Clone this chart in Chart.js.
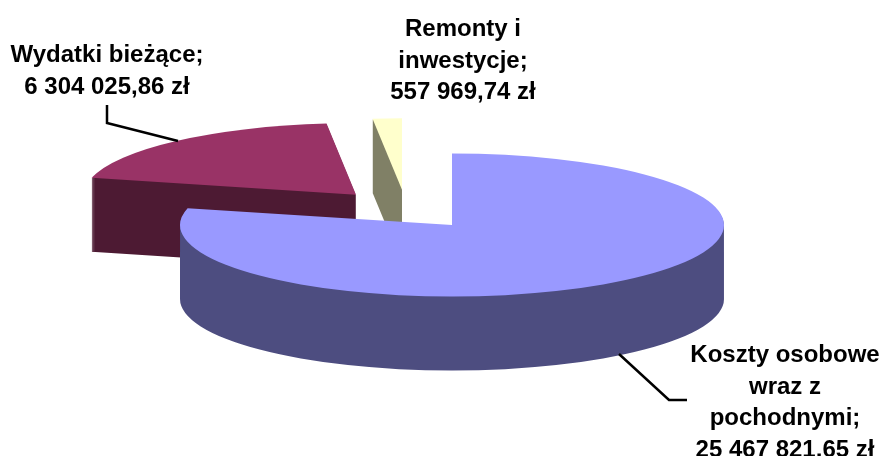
<!DOCTYPE html>
<html>
<head>
<meta charset="utf-8">
<style>
  html, body { margin: 0; background: #fff; }
  #wrap { width: 882px; height: 456px; }
</style>
<script src="https://cdn.jsdelivr.net/npm/chart.js@4"></script>
</head>
<body>
<div id="wrap"><canvas id="chart" width="882" height="456"></canvas></div>
<script>
const categories = ["Koszty osobowe wraz z pochodnymi", "Wydatki bieżące", "Remonty i inwestycje"];
const values = [25467821.65, 6304025.86, 557969.74];
const topColors = ["#9999FF", "#993366", "#FFFFCC"];
const wallColors = ["#4D4D80", "#4D1A33", "#808066"];

// label text wrapped the way the picture wraps it
const labelLines = [
  ["Koszty osobowe", "wraz z", "pochodnymi;"],
  ["Wydatki bieżące;"],
  ["Remonty i", "inwestycje;"]
];
const labelSpots = [
  { x: 785, y: 362 },
  { x: 107, y: 62 },
  { x: 463, y: 36 }
];
const leaders = [
  [[619, 354], [669, 400], [687, 400]],
  [[107, 105], [107, 123], [178, 141]],
  null
];

const squash = 0.263;
const depth = 74;
const explode = 75;

// adds one slice outline to the current path, lifted into the flattened view
function addSlice(ctx, arc, dy) {
  const mid = (arc.startAngle + arc.endAngle) / 2;
  const cx = Math.round(arc.x + Math.cos(mid) * explode);
  const cy = arc.y + dy + Math.sin(mid) * explode * squash;
  ctx.save();
  ctx.translate(cx, cy);
  ctx.scale(1, squash);
  ctx.moveTo(0, 0);
  ctx.arc(0, 0, arc.outerRadius, arc.startAngle, arc.endAngle);
  ctx.closePath();
  ctx.restore();
}

const pie3d = {
  id: "pie3d",
  beforeDatasetDraw(chart) {
    const ctx = chart.ctx;
    const arcs = chart.getDatasetMeta(0).data;
    // back slices first, the big one sits in front of them
    const order = [1, 2, 0];
    order.forEach(i => {
      ctx.beginPath();
      for (let d = depth; d > 0; d--) addSlice(ctx, arcs[i], d);
      ctx.fillStyle = wallColors[i];
      ctx.fill();
    });
    order.forEach(i => {
      ctx.beginPath();
      addSlice(ctx, arcs[i], 0);
      ctx.fillStyle = topColors[i];
      ctx.fill();
    });
    return false;
  },
  afterDatasetsDraw(chart) {
    const ctx = chart.ctx;
    ctx.save();
    ctx.strokeStyle = "#000";
    ctx.lineWidth = 2.5;
    leaders.forEach(pts => {
      if (!pts) return;
      ctx.beginPath();
      pts.forEach((p, n) => n ? ctx.lineTo(p[0], p[1]) : ctx.moveTo(p[0], p[1]));
      ctx.stroke();
    });
    ctx.fillStyle = "#000";
    ctx.font = "bold 24px 'Liberation Sans'";
    ctx.textAlign = "center";
    labelLines.forEach((lines, i) => {
      const all = lines.concat(money(values[i]));
      all.forEach((t, n) => ctx.fillText(t, labelSpots[i].x, labelSpots[i].y + n * 31.6));
    });
    ctx.restore();
  }
};

function money(v) {
  const parts = v.toFixed(2).split(".");
  return parts[0].replace(/\B(?=(\d{3})+$)/g, " ") + "," + parts[1] + " zł";
}

new Chart(document.getElementById("chart"), {
  type: "pie",
  data: {
    labels: categories,
    datasets: [{ data: values, backgroundColor: topColors, borderWidth: 0 }]
  },
  options: {
    responsive: false,
    animation: false,
    radius: 272,
    layout: { padding: { right: 70, bottom: 37 } },
    plugins: { legend: { display: false }, tooltip: { enabled: false } }
  },
  plugins: [pie3d]
});
</script>
</body>
</html>
